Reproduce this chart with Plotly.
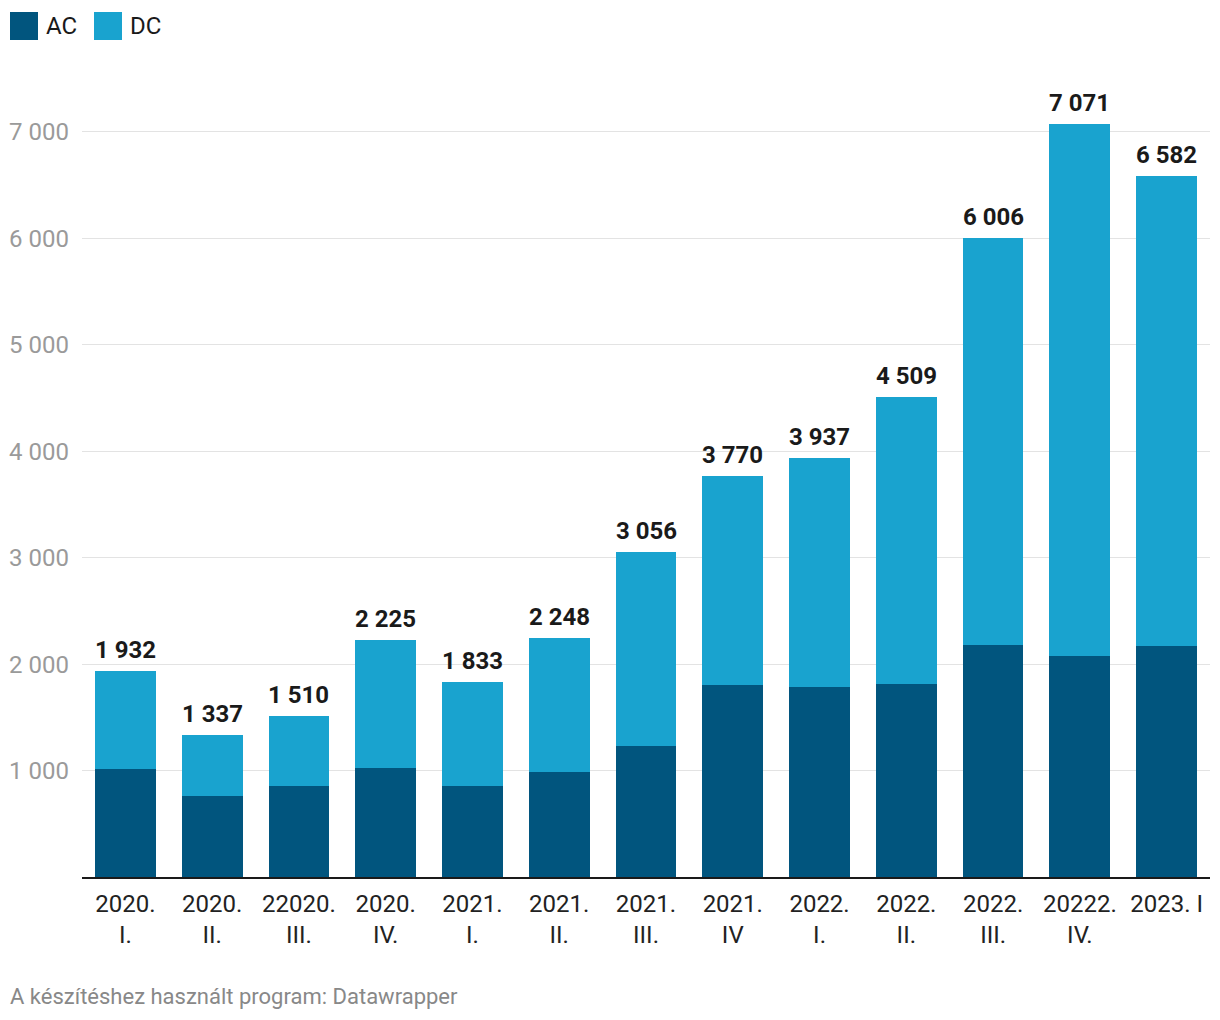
import plotly.graph_objects as go

categories = ["2020.<br>I.", "2020.<br>II.", "22020.<br>III.", "2020.<br>IV.",
              "2021.<br>I.", "2021.<br>II.", "2021.<br>III.", "2021.<br>IV",
              "2022.<br>I.", "2022.<br>II.", "2022.<br>III.", "20222.<br>IV.",
              "2023. I"]
totals = [1932, 1337, 1510, 2225, 1833, 2248, 3056, 3770, 3937, 4509, 6006, 7071, 6582]
ac_values = [1015, 761, 855, 1024, 855, 987, 1231, 1804, 1786, 1814, 2180, 2077, 2171]
dc_values = [t - a for t, a in zip(totals, ac_values)]
tick_vals = [1000, 2000, 3000, 4000, 5000, 6000, 7000]
tick_text = ["1 000", "2 000", "3 000", "4 000", "5 000", "6 000", "7 000"]

AC_COLOR = "#01557e"
DC_COLOR = "#19a3cf"

def fmt(v):
    return f"{v:,}".replace(",", " ")

fig = go.Figure()
fig.add_trace(go.Bar(x=categories, y=ac_values, name="AC", marker_color=AC_COLOR,
                     marker_line_width=0))
fig.add_trace(go.Bar(x=categories, y=dc_values, name="DC", marker_color=DC_COLOR,
                     marker_line_width=0))

annotations = []
for c, t in zip(categories, totals):
    annotations.append(dict(x=c, y=t, text=f"<b>{fmt(t)}</b>", showarrow=False,
                            yanchor="bottom", yshift=5, xref="x", yref="y",
                            font=dict(size=24, color="#1a1a1a", family="Roboto")))

W, H = 1220, 1020
ml, mr, mt, mb = 82, 10, 100, 143
pw, ph = W - ml - mr, H - mt - mb

def px_to_paper_x(px):
    return (px - ml) / pw

def px_to_paper_y(py):
    return (H - mb - py) / ph

shapes = [
    dict(type="rect", xref="paper", yref="paper",
         x0=px_to_paper_x(10), x1=px_to_paper_x(38),
         y0=px_to_paper_y(40), y1=px_to_paper_y(12),
         fillcolor=AC_COLOR, line_width=0),
    dict(type="rect", xref="paper", yref="paper",
         x0=px_to_paper_x(94), x1=px_to_paper_x(122),
         y0=px_to_paper_y(40), y1=px_to_paper_y(12),
         fillcolor=DC_COLOR, line_width=0),
]
annotations += [
    dict(xref="paper", yref="paper", x=px_to_paper_x(44), y=px_to_paper_y(26),
         text="AC", showarrow=False, xanchor="left", yanchor="middle",
         font=dict(size=24, color="#1a1a1a", family="Roboto")),
    dict(xref="paper", yref="paper", x=px_to_paper_x(128), y=px_to_paper_y(26),
         text="DC", showarrow=False, xanchor="left", yanchor="middle",
         font=dict(size=24, color="#1a1a1a", family="Roboto")),
    dict(xref="paper", yref="paper", x=px_to_paper_x(8), y=px_to_paper_y(997),
         text="A készítéshez használt program: Datawrapper", showarrow=False,
         xanchor="left", yanchor="middle",
         font=dict(size=22, color="#888888", family="Roboto")),
]

fig.update_layout(
    barmode="stack",
    bargap=0.3,
    width=W, height=H,
    margin=dict(l=ml, r=mr, t=mt, b=mb),
    plot_bgcolor="white", paper_bgcolor="white",
    showlegend=False,
    font=dict(family="Roboto", size=20, color="#333333"),
    annotations=annotations,
    shapes=shapes,
    xaxis=dict(showgrid=False, showline=True, linecolor="#1a1a1a", linewidth=2,
               ticks="", tickfont=dict(size=24, color="#222222", family="Roboto"),
               ticklabelstandoff=4, fixedrange=True),
    yaxis=dict(range=[0, 7300], tickvals=tick_vals, ticktext=tick_text,
               showgrid=True, gridcolor="#e3e3e3", gridwidth=1, zeroline=False,
               showline=False, ticks="", ticklabelstandoff=12,
               tickfont=dict(size=24, color="#9a9a9a", family="Roboto")),
)

fig.write_html("out.html")
